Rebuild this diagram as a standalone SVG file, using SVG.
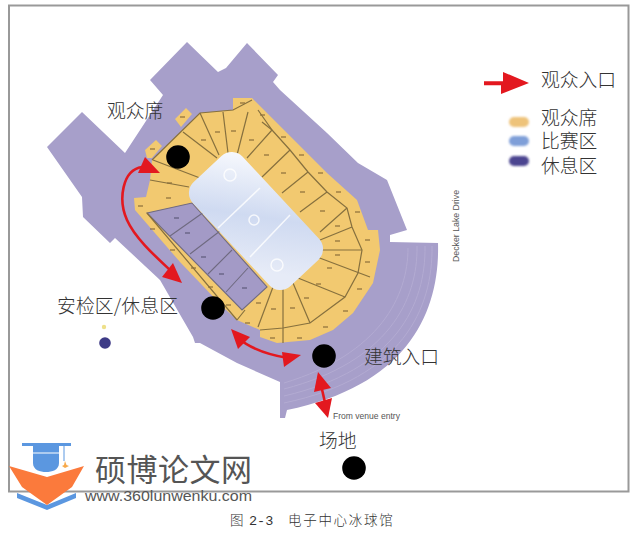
<svg xmlns="http://www.w3.org/2000/svg" width="637" height="533" viewBox="0 0 637 533">
<style>
.cjk{font-family:"Noto Sans CJK SC","Noto Sans",sans-serif;font-weight:300;fill:#333}
.lbl{font-size:18.8px}
.arrow{fill:#e3181f;stroke:none}
.curve{fill:none;stroke:#e3181f;stroke-width:2.6}
.dot{fill:#000}
.lat{font-family:"Liberation Sans",Arial,sans-serif;fill:#555}
</style>
<defs>
<filter id="b" x="-5%" y="-5%" width="110%" height="110%"><feGaussianBlur stdDeviation="0.6"/></filter>
<filter id="b2" x="-30%" y="-30%" width="160%" height="160%"><feGaussianBlur stdDeviation="1"/></filter>
<linearGradient id="ice" x1="0" y1="0" x2="1" y2="0.6"><stop offset="0" stop-color="#fafbfe"/><stop offset="0.55" stop-color="#cfdaf1"/><stop offset="1" stop-color="#e6ebf7"/></linearGradient>
</defs>
<rect width="637" height="533" fill="#fff"/>
<rect id="frame" x="9" y="5.500" width="619.500" height="486" fill="#fff" stroke="#999" stroke-width="2"/>
<g id="plan" filter="url(#b)">
<path id="concourse" fill="#a79fca" d="M187,42 L218,72 L226,68 L247,43 L278,75 L273,82 L280,90 L327,133 L358,163 L387,180 L407,230 L390,235 L390,242 L438,243 C440,310 410,385 287,410 L285,418 L280,418 L280,382 L237,363 L200,343 L195,343 L193,337 L160,280 L115,238 L110,243 L83,217 L82,197 L47,147 L82,112 L125,153 L163,95 L150,80 Z"/>
<g fill="none" stroke="#b3abd2" stroke-width="1">
<path d="M432,246 C433,308 403,378 284,403"/>
<path d="M425,246 C426,304 396,370 284,396"/>
<path d="M417,246 C418,300 388,362 284,389"/>
<path d="M408,248 C408,296 380,354 284,383"/>
</g>
<path id="bowl" fill="#f2c96f" d="M233,98 L252,98 L277,123 L327,173 L357,200 L368,230 L378,230 L380,250 L373,283 L353,313 L333,330 L310,340 L277,343 L260,337 L260,330 L237,320 L223,307 L180,262 L135,210 L134,198 L146,197 L150,180 L152,160 L200,113 L233,110 Z"/>
<path fill="#f2c96f" d="M175,119 L186,108 L192,114 L181,127 Z M145,150 L156,140 L162,146 L152,158 L147,158 Z"/>
<path id="sections" fill="#a39ac6" stroke="#6f6a80" stroke-width="1.100" d="M147,213 L192,203 L267,287 L242,310 Z M170,236 L204,212 M190,254 L220,231 M208,274 L232,250 M226,292 L248,268"/>
<g fill="none" stroke="#86703f" stroke-width="1.200">
<path d="M152,160 L200,113 L233,110 L252,100"/>
<path d="M262,122 L272,130 L290,150 L308,172 L327,192 L347,208 L352,227 L362,250 L358,273 L345,297 L310,323 L283,328 L260,330"/>
<path d="M200,113 L219,155 M223,112 L228,153 M248,112 L237,155 M183,132 L217,158 M153,160 L200,178 M150,180 L189,187 M272,130 L247,158 M290,150 L262,177 M308,172 L282,193 M327,192 L300,212 M347,208 L320,232 M352,227 L320,240 M362,250 L320,250 M370,277 L317,257 M345,297 L298,278 M310,323 L293,283 M283,328 L283,288 M258,327 L273,287 M283,328 L283,343 M258,110 L272,130"/>
<path d="M237,320 L245,310 M147,213 L237,320"/>
</g>
<rect id="rink" x="185" y="187" width="142" height="68" rx="15" fill="url(#ice)" transform="rotate(47 256 221)"/>
<g fill="none" stroke="#fff" stroke-width="1.500" opacity="0.8">
<path d="M218,228 L260,188 M250,257 L290,215"/>
<circle cx="230" cy="175" r="6"/><circle cx="254" cy="220" r="5"/><circle cx="277" cy="265" r="6"/>
</g>
<path fill="none" stroke="#8a6e3a" stroke-width="1.800" stroke-dasharray="5 200" opacity="0.6" d="M240,103h5M260,115h5M180,117h5M150,149h5M201,140h5M215,132h5M231,131h5M249,140h5M264,155h5M281,137h5M299,155h5M281,173h5M300,192h5M318,173h5M336,192h5M320,211h5M355,212h5M335,226h5M335,241h5M365,240h5M335,255h5M365,262h5M327,268h5M357,289h5M316,284h5M343,311h5M304,298h5M323,327h5M290,308h5M297,338h5M271,309h5M270,338h5M256,303h5M245,323h5M226,305h5M167,183h5M166,198h5M138,206h5M150,229h5M170,250h5M191,268h5M208,287h5"/>
<path fill="none" stroke="#5e5a7a" stroke-width="1.800" stroke-dasharray="5 200" opacity="0.6" d="M174,218h5M185,233h5M201,257h5M219,274h5M242,288h5"/>
<circle cx="104" cy="327" r="2.200" fill="#eee08a"/>
<circle cx="105" cy="343" r="5.800" fill="#3d3a86"/>
</g>
<g id="legend">
<g filter="url(#b2)">
<rect x="509" y="117" width="20" height="10" rx="5" fill="#eec37a"/>
<rect x="509" y="136" width="20" height="10" rx="5" fill="#7f9fd8"/>
<rect x="509" y="156" width="20" height="10" rx="5" fill="#4b4490"/>
</g>
<text class="cjk lbl" x="541" y="87">观众入口</text>
<text class="cjk lbl" x="541" y="125">观众席</text>
<text class="cjk lbl" x="541" y="148">比赛区</text>
<text class="cjk lbl" x="541" y="173">休息区</text>
</g>
<g id="connectors">
<path class="arrow" d="M484,81.200 H503 V72 L529,83 L501,94 V85.200 H484 Z"/>
<path class="curve" d="M142,167 C122,170 118,200 127,220 C135,238 155,256 170,270"/>
<path class="arrow" d="M145,157 L160,173 L138,173 Z"/>
<path class="arrow" d="M182,283 L162,277 L173,263 Z"/>
<path class="curve" d="M238,338 C252,350 270,355 288,358"/>
<path class="arrow" d="M231,329 L250,337 L238,349 Z"/>
<path class="arrow" d="M301,355 L282,352 L284,367 Z"/>
<path class="curve" d="M321,385 L326,407"/>
<path class="arrow" d="M318,372 L331,388 L314,392 Z"/>
<path class="arrow" d="M328,418 L315,403 L332,398 Z"/>
</g>
<g id="node-seating"><circle class="dot" cx="178" cy="157" r="11.800"/><text class="cjk lbl" x="107" y="118">观众席</text></g>
<g id="node-security"><circle class="dot" cx="213" cy="308" r="11.800"/><text class="cjk lbl" x="57" y="313" textLength="121">安检区/休息区</text></g>
<g id="node-entrance"><circle class="dot" cx="324" cy="356" r="11.800"/><text class="cjk lbl" x="364" y="364">建筑入口</text></g>
<g id="node-venue"><circle class="dot" cx="354" cy="468" r="11.800"/><text class="cjk lbl" x="319" y="448">场地</text></g>
<text class="lat" x="333" y="419" font-size="8.500" textLength="67" lengthAdjust="spacingAndGlyphs">From venue entry</text>
<text class="lat" transform="translate(459 262) rotate(-90)" x="0" y="0" font-size="9.500" textLength="72" lengthAdjust="spacingAndGlyphs">Decker Lake Drive</text>
<g id="watermark">
<path fill="#5b97e0" d="M22,443 H71 V446 H59 V463 C59,470 52,472 46,472 C40,472 33,470 33,463 V446 H22 Z"/>
<path fill="none" stroke="#fff" stroke-width="1" d="M33,453 H59"/>
<path fill="none" stroke="#5b97e0" stroke-width="1" d="M64,446 V461"/>
<path fill="#f7a94a" d="M65,461 L66.500,465 L69,466 L65,468 L62,466 L64,465 Z"/>
<path fill="#5b97e0" d="M17,493 L47,505 L76,493 V498 L47,510 L17,498 Z"/>
<path fill="#fb7a3c" d="M9,466 L47,477 L84,466 L72,487 L47,505 L22,487 Z"/>
<text x="95" y="481" font-family="'Noto Sans CJK SC',sans-serif" font-size="31" fill="#555" textLength="157">硕博论文网</text>
<text class="lat" x="85" y="501" font-size="15" textLength="167" lengthAdjust="spacingAndGlyphs">www.360lunwenku.com</text>
</g>
<g id="caption">
<text class="cjk" x="230" y="525" font-size="13.500">图</text>
<text x="249" y="525" font-family="'Liberation Mono',monospace" font-size="13.500" fill="#333">2-3</text>
<text class="cjk" x="288" y="525" font-size="13.500" letter-spacing="1.700">电子中心冰球馆</text>
</g>
</svg>
